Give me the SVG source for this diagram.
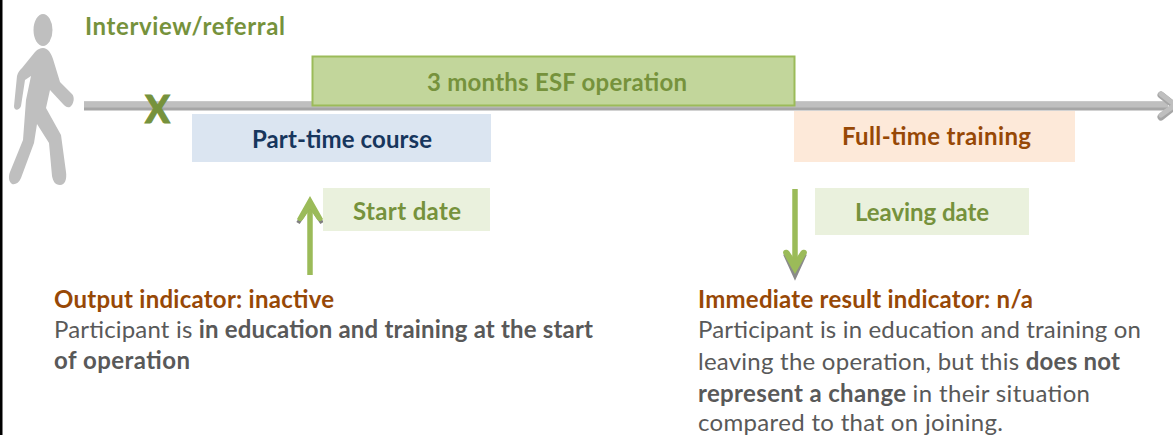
<svg xmlns="http://www.w3.org/2000/svg" width="1173" height="435" viewBox="0 0 1173 435">
<style>
text{font-family:Lato,"Liberation Sans",sans-serif;font-size:24px;font-weight:700}
.g{fill:#76923c}.o{fill:#974806}.n{fill:#17365d}
.t{fill:#595959;font-weight:400}.b{fill:#595959;font-weight:700}
.tl{fill:none;stroke-linecap:round;stroke-linejoin:round}
</style>
<defs><filter id="s" x="-20%" y="-20%" width="140%" height="140%"><feGaussianBlur stdDeviation="0.6"/></filter></defs>
<rect width="1173" height="435" fill="#fff"/>
<rect x="0" y="0" width="2.500" height="435" fill="#000"/>
<g id="person" fill="#bfbfbf">
<ellipse cx="43" cy="30" rx="9.500" ry="16"/>
<path d="M43 48C48 48 51 53 53 59L60 82L72 94C75 97 74 104 70 107C67 108 65 106 63 104L50 90L46 108L61 135L66 172C67 179 65 185 60 185C55 185 53 181 52 176L49 143L37 124L34 143L21 178C19 183 15 185 12 184C9 182 8 177 10 172L23 140L26 100L31 76L25 80L21 106C19 111 14 111 14 106L17 76C18 72 20 70 22 68L35 52C38 49 40 48 43 48Z"/>
</g>
<g id="connectors">
<path d="M84 106H1168" stroke="#a6a6a6" stroke-width="9" fill="none"/>
<path d="M84 104.500H1168" stroke="#bfbfbf" stroke-width="6" fill="none"/>
<path class="tl" d="M1161 95L1175 106L1161 117" stroke="#a6a6a6" stroke-width="7"/>
<path class="tl" d="M1161 94L1175 105L1161 115" stroke="#bfbfbf" stroke-width="5"/>
<g id="start-arrow">
<path d="M310 278V220" stroke="#a6a6a6" stroke-width="5.500" fill="none" filter="url(#s)"/>
<path d="M310 275V205" stroke="#9bbb59" stroke-width="5.500" fill="none"/>
<path d="M298 222L310 204L322 222" fill="none" stroke="#808080" stroke-width="4" filter="url(#s)" transform="translate(0 1)"/>
<path d="M310 196L323 219C320 223 318 221 316 218L310 209L304 218C302 221 300 223 297 219Z" fill="#9bbb59"/>
</g>
<g id="end-arrow">
<path d="M795 189V268" stroke="#9bbb59" stroke-width="5.500" fill="none"/>
<path d="M785 254L795 276L805 254" fill="none" stroke="#8a8a8a" stroke-width="4" filter="url(#s)"/>
<path d="M795 274L783 253C783 249 787 249 789 251L795 260L801 251C803 249 807 249 807 253Z" fill="#9bbb59"/>
</g>
</g>
<g id="marker-x"><text x="145" y="122.500" class="g" textLength="25" lengthAdjust="spacingAndGlyphs" style="font-size:38px;font-weight:900;stroke:#76923c;stroke-width:1">X</text></g>
<g id="interview"><text x="85" y="35" class="g" textLength="200">Interview/referral</text></g>
<g id="esf"><rect x="312.500" y="56.500" width="482" height="49" fill="#c2d69b" stroke="#9bbb59" stroke-width="2"/><text x="427" y="91" class="g" textLength="260">3 months ESF operation</text></g>
<g id="part-time"><rect x="192" y="114" width="299" height="48" fill="#dbe5f1"/><text x="252" y="148" class="n" textLength="180">Part-time course</text></g>
<g id="full-time"><rect x="794" y="111" width="281" height="51" fill="#fde9d9"/><text x="842" y="145" class="o" textLength="189">Full-time training</text></g>
<g id="start-date"><rect x="323" y="188" width="167" height="43" fill="#eaf1dd"/><text x="353" y="220" class="g" textLength="108">Start date</text></g>
<g id="leaving-date"><rect x="815" y="188" width="214" height="47" fill="#eaf1dd"/><text x="855" y="221" class="g" textLength="134">Leaving date</text></g>
<g id="output-indicator">
<text x="54" y="308" class="o" textLength="280">Output indicator: inactive</text>
<text x="54" y="338" class="t" textLength="539">Participant is <tspan class="b">in education and training at the start</tspan></text>
<text x="54" y="369" class="b" textLength="136">of operation</text>
</g>
<g id="result-indicator">
<text x="698" y="308" class="o" textLength="335">Immediate result indicator: n/a</text>
<text x="698" y="338" class="t" textLength="443">Participant is in education and training on</text>
<text x="698" y="370" class="t" textLength="422">leaving the operation, but this <tspan class="b">does not</tspan></text>
<text x="698" y="402" class="b" textLength="392">represent a change <tspan class="t">in their situation</tspan></text>
<text x="698" y="431" class="t" textLength="305">compared to that on joining.</text>
</g>
</svg>
